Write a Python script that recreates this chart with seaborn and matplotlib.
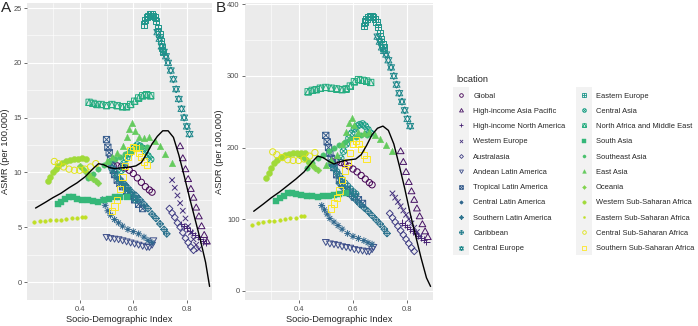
import numpy as np
import matplotlib
matplotlib.use("Agg")
import matplotlib.pyplot as plt
import seaborn as sns
from matplotlib.path import Path
from matplotlib.lines import Line2D
from matplotlib.patches import Rectangle

# values (SDI, ASMR per 100k, ASDR per 100k)
global_sdi = [0.525, 0.54, 0.555, 0.57, 0.585, 0.60, 0.615, 0.63, 0.645, 0.66, 0.67]
global_asmr = [10.6, 10.6, 10.5, 10.4, 10.2, 9.9, 9.5, 9.1, 8.7, 8.4, 8.2]
global_asdr = [180, 180, 179, 177, 174, 170, 166, 161, 156, 151, 148]

hiap_sdi = [0.775, 0.785, 0.795, 0.805, 0.815, 0.825, 0.835, 0.845, 0.855, 0.865, 0.875]
hiap_asmr = [12.4, 11.3, 10.3, 9.4, 8.5, 7.7, 6.8, 6.0, 5.1, 4.3, 3.7]
hiap_asdr = [195, 180, 166, 152, 139, 127, 115, 104, 93, 83, 75]

hina_sdi = [0.78, 0.79, 0.80, 0.81, 0.82, 0.83, 0.84, 0.85, 0.86, 0.87]
hina_asmr = [5.3, 5.1, 4.9, 4.7, 4.5, 4.3, 4.1, 3.9, 3.7, 3.6]
hina_asdr = [95, 92, 89, 86, 83, 80, 77, 74, 71, 68]

weu_sdi = [0.745, 0.755, 0.765, 0.775, 0.785, 0.795, 0.805, 0.815, 0.825, 0.835, 0.845]
weu_asmr = [9.3, 8.6, 7.9, 7.2, 6.5, 5.8, 5.1, 4.5, 3.9, 3.4, 3.0]
weu_asdr = [136, 130, 124, 118, 112, 106, 100, 94, 88, 82, 76]

aus_sdi = [0.735, 0.745, 0.755, 0.765, 0.775, 0.785, 0.795, 0.805, 0.815, 0.825]
aus_asmr = [6.7, 6.3, 5.9, 5.4, 5.0, 4.5, 4.0, 3.6, 3.2, 2.9]
aus_asdr = [108, 102, 96, 90, 84, 78, 72, 66, 60, 55]

andean_sdi = [0.50, 0.515, 0.53, 0.545, 0.56, 0.575, 0.59, 0.605, 0.62, 0.635, 0.65, 0.66, 0.67, 0.675]
andean_asmr = [4.1, 4.0, 3.95, 3.9, 3.8, 3.7, 3.6, 3.5, 3.4, 3.3, 3.2, 3.2, 3.4, 3.8]
andean_asdr = [68, 66, 65, 64, 62, 61, 60, 58, 57, 56, 55, 55, 58, 61]

trop_sdi = [0.50, 0.505, 0.51, 0.515, 0.52, 0.525, 0.53, 0.54, 0.55, 0.56, 0.575, 0.59, 0.605, 0.62, 0.635]
trop_asmr = [13.0, 12.3, 11.8, 11.2, 10.7, 10.2, 9.8, 9.3, 9.0, 8.7, 8.3, 7.9, 7.5, 7.1, 6.7]
trop_asdr = [217, 208, 200, 192, 185, 178, 172, 162, 155, 148, 141, 136, 131, 127, 122]

cla_sdi = [0.485, 0.495, 0.505, 0.515, 0.53, 0.545, 0.56, 0.58, 0.60, 0.62, 0.64, 0.655, 0.67]
cla_asmr = [7.5, 7.0, 6.5, 6.1, 5.7, 5.4, 5.1, 4.8, 4.6, 4.4, 4.1, 3.8, 3.6]
cla_asdr = [119, 113, 107, 101, 96, 91, 86, 80, 76, 73, 70, 67, 65]

sla_sdi = [0.55, 0.565, 0.58, 0.595, 0.61, 0.625, 0.64, 0.655, 0.67, 0.685, 0.70, 0.715, 0.725]
sla_asmr = [9.4, 9.0, 8.6, 8.2, 7.9, 7.5, 7.1, 6.7, 6.2, 5.8, 5.3, 4.8, 4.4]
sla_asdr = [150, 143, 137, 132, 127, 121, 116, 111, 105, 99, 93, 86, 80]

carib_sdi = [0.52, 0.53, 0.54, 0.55, 0.56, 0.57, 0.58, 0.59, 0.60, 0.61]
carib_asmr = [10.4, 10.0, 9.6, 9.2, 8.9, 8.6, 8.3, 8.0, 7.7, 7.5]
carib_asdr = [178, 172, 166, 160, 155, 150, 146, 142, 138, 135]

ceu_sdi = [0.690, 0.698, 0.706, 0.714, 0.722, 0.730, 0.740, 0.750, 0.760, 0.770, 0.780, 0.790, 0.800, 0.810]
ceu_asmr = [22.8, 22.2, 21.5, 21.0, 20.6, 20.0, 19.3, 18.5, 17.6, 16.7, 15.8, 15.0, 14.2, 13.5]
ceu_asdr = [355, 348, 340, 335, 330, 322, 312, 300, 288, 276, 264, 252, 240, 230]

eeu_sdi = [0.640, 0.645, 0.650, 0.656, 0.662, 0.668, 0.674, 0.680, 0.686, 0.692, 0.698, 0.703, 0.708, 0.712]
eeu_asmr = [23.5, 23.9, 24.2, 24.3, 24.4, 24.4, 24.3, 24.2, 23.8, 23.2, 22.6, 22.0, 21.4, 21.0]
eeu_asdr = [370, 376, 380, 382, 383, 383, 382, 380, 375, 368, 360, 352, 345, 340]

cas_sdi = [0.555, 0.565, 0.575, 0.585, 0.595, 0.605, 0.615, 0.625, 0.635, 0.645, 0.655, 0.665]
cas_asmr = [10.2, 10.8, 11.3, 11.7, 12.0, 12.3, 12.5, 12.4, 12.2, 11.9, 11.5, 11.2]
cas_asdr = [185, 195, 205, 213, 220, 226, 230, 232, 233, 230, 225, 220]

name_sdi = [0.435, 0.45, 0.465, 0.48, 0.50, 0.52, 0.54, 0.56, 0.575, 0.59, 0.605, 0.62, 0.635, 0.65, 0.665]
name_asmr = [16.4, 16.3, 16.2, 16.2, 16.1, 16.2, 16.1, 16.0, 16.0, 16.2, 16.5, 16.8, 17.0, 17.1, 17.0]
name_asdr = [278, 280, 281, 283, 284, 283, 282, 281, 282, 286, 292, 295, 294, 293, 291]

sas_sdi = [0.318, 0.33, 0.345, 0.36, 0.375, 0.39, 0.41, 0.43, 0.45, 0.47, 0.49, 0.51, 0.53, 0.55, 0.575]
sas_asmr = [7.1, 7.3, 7.6, 7.8, 7.8, 7.6, 7.5, 7.5, 7.4, 7.3, 7.5, 7.6, 7.8, 7.8, 7.8]
sas_asdr = [126, 129, 133, 136, 137, 135, 134, 133, 132, 131, 132, 133, 134, 135, 136]

sea_sdi = [0.43, 0.45, 0.47, 0.49, 0.51, 0.53, 0.55, 0.57, 0.59, 0.61, 0.63, 0.65]
sea_asmr = [9.5, 9.9, 10.3, 10.7, 11.0, 11.2, 11.4, 11.7, 12.0, 12.2, 12.3, 12.3]
sea_asdr = [172, 178, 185, 190, 195, 200, 204, 208, 212, 215, 217, 218]

eas_sdi = [0.50, 0.52, 0.54, 0.56, 0.575, 0.585, 0.595, 0.605, 0.62, 0.64, 0.66, 0.68, 0.70, 0.72, 0.745]
eas_asmr = [11.0, 11.4, 11.8, 12.4, 13.2, 14.0, 14.5, 13.8, 13.2, 13.1, 13.2, 12.9, 12.4, 11.7, 10.9]
eas_asdr = [175, 182, 190, 205, 222, 235, 242, 232, 222, 220, 222, 218, 212, 203, 195]

oce_sdi = [0.40, 0.41, 0.42, 0.43, 0.44, 0.45, 0.46, 0.47]
oce_asmr = [10.6, 10.4, 10.1, 9.9, 9.6, 9.4, 9.2, 9.0]
oce_asdr = [190, 188, 185, 182, 178, 175, 171, 168]

wssa_sdi = [0.28, 0.29, 0.30, 0.31, 0.32, 0.335, 0.35, 0.365, 0.38, 0.395, 0.41, 0.425]
wssa_asmr = [9.2, 9.6, 10.0, 10.3, 10.6, 10.9, 11.0, 11.1, 11.2, 11.2, 11.3, 11.2]
wssa_asdr = [157, 165, 172, 178, 183, 187, 190, 191, 192, 193, 193, 193]

essa_sdi = [0.23, 0.25, 0.27, 0.29, 0.31, 0.33, 0.35, 0.37, 0.39, 0.41, 0.42]
essa_asmr = [5.5, 5.6, 5.6, 5.65, 5.7, 5.7, 5.75, 5.8, 5.85, 5.9, 5.95]
essa_asdr = [92, 95, 96, 97, 98, 99, 100, 101, 102, 104, 105]

cssa_sdi = [0.305, 0.32, 0.34, 0.36, 0.38, 0.40, 0.42, 0.44, 0.46]
cssa_asmr = [11.0, 10.8, 10.5, 10.3, 10.2, 10.2, 10.3, 10.5, 10.8]
cssa_asdr = [194, 190, 186, 183, 182, 182, 184, 188, 193]

sssa_sdi = [0.52, 0.53, 0.54, 0.55, 0.56, 0.57, 0.58, 0.59, 0.60, 0.61, 0.62, 0.63, 0.64, 0.65]
sssa_asmr = [6.5, 6.9, 7.5, 8.5, 9.6, 10.6, 11.4, 12.0, 12.3, 12.2, 11.8, 11.4, 11.0, 10.7]
sssa_asdr = [115, 122, 130, 140, 155, 168, 180, 192, 205, 210, 205, 198, 190, 184]

# smoothed trend over all regions
fit_sdi = [0.235, 0.27, 0.30, 0.33, 0.36, 0.39, 0.42, 0.45, 0.47, 0.49, 0.51, 0.53, 0.55, 0.57, 0.59,
           0.61, 0.63, 0.65, 0.67, 0.69, 0.71, 0.73, 0.75, 0.77, 0.79, 0.81, 0.83, 0.85, 0.87, 0.885]
fit_asmr = [6.75, 7.25, 7.7, 8.1, 8.6, 9.05, 9.6, 10.35, 10.8, 10.7, 10.45, 10.35, 10.4, 10.45, 10.5,
            10.6, 10.9, 11.7, 12.6, 13.3, 13.8, 13.8, 13.2, 11.6, 9.7, 7.7, 5.8, 3.9, 1.8, -0.4]
fit_asdr = [111, 121, 130, 138, 147, 156, 166, 180, 188, 186, 181, 177, 180, 182, 183,
            184, 190, 203, 218, 227, 230, 224, 205, 175, 143, 108, 77, 46, 18, 6]

locations = ["Global", "High-income Asia Pacific", "High-income North America", "Western Europe",
             "Australasia", "Andean Latin America", "Tropical Latin America", "Central Latin America",
             "Southern Latin America", "Caribbean", "Central Europe", "Eastern Europe", "Central Asia",
             "North Africa and Middle East", "South Asia", "Southeast Asia", "East Asia", "Oceania",
             "Western Sub-Saharan Africa", "Eastern Sub-Saharan Africa", "Central Sub-Saharan Africa",
             "Southern Sub-Saharan Africa"]
series = [
    (global_sdi, global_asmr, global_asdr), (hiap_sdi, hiap_asmr, hiap_asdr),
    (hina_sdi, hina_asmr, hina_asdr), (weu_sdi, weu_asmr, weu_asdr),
    (aus_sdi, aus_asmr, aus_asdr), (andean_sdi, andean_asmr, andean_asdr),
    (trop_sdi, trop_asmr, trop_asdr), (cla_sdi, cla_asmr, cla_asdr),
    (sla_sdi, sla_asmr, sla_asdr), (carib_sdi, carib_asmr, carib_asdr),
    (ceu_sdi, ceu_asmr, ceu_asdr), (eeu_sdi, eeu_asmr, eeu_asdr),
    (cas_sdi, cas_asmr, cas_asdr), (name_sdi, name_asmr, name_asdr),
    (sas_sdi, sas_asmr, sas_asdr), (sea_sdi, sea_asmr, sea_asdr),
    (eas_sdi, eas_asmr, eas_asdr), (oce_sdi, oce_asmr, oce_asdr),
    (wssa_sdi, wssa_asmr, wssa_asdr), (essa_sdi, essa_asmr, essa_asdr),
    (cssa_sdi, cssa_asmr, cssa_asdr), (sssa_sdi, sssa_asmr, sssa_asdr),
]

# ggplot-like point shapes 1..22 built as paths
M, L, C = Path.MOVETO, Path.LINETO, Path.CLOSEPOLY


def poly(pts):
    return Path(pts + [pts[0]], [M] + [L] * (len(pts) - 1) + [C])


def segs(*lines):
    verts, codes = [], []
    for a, b in lines:
        verts += [a, b]
        codes += [M, L]
    return Path(verts, codes)


def combo(*paths):
    return Path.make_compound_path(*paths)


circ = Path.unit_circle()
sq = poly([(-1, -1), (1, -1), (1, 1), (-1, 1)])
tri_up = poly([(-1, -0.75), (1, -0.75), (0, 1)])
tri_dn = poly([(-1, 0.75), (1, 0.75), (0, -1)])
diam = poly([(0, -1), (1, 0), (0, 1), (-1, 0)])
plus = segs(((-1, 0), (1, 0)), ((0, -1), (0, 1)))
xx = segs(((-1, -1), (1, 1)), ((-1, 1), (1, -1)))
xin = segs(((-0.7, -0.7), (0.7, 0.7)), ((-0.7, 0.7), (0.7, -0.7)))

# (marker, filled, size)
shapes = [
    (circ, False, 12), (tri_up, False, 14), (plus, False, 14), (xx, False, 9),
    (diam, False, 14), (tri_dn, False, 14), (combo(sq, xx), False, 12), (combo(plus, xin), False, 14),
    (combo(diam, plus), False, 14), (combo(circ, plus), False, 13), (combo(tri_up, tri_dn), False, 15),
    (combo(sq, plus), False, 12), (combo(circ, xin), False, 13), (combo(sq, poly([(-1, -1), (1, -1), (0, 1)])), False, 12),
    ("s", True, 9), ("o", True, 9), ("^", True, 13), ("D", True, 7),
    ("o", True, 11), ("o", True, 4), (circ, False, 12), (sq, False, 12),
]
plot_scale = 1.7  # points on the panels are drawn larger than legend keys

colors = plt.get_cmap("viridis")(np.linspace(0, 1, len(locations)))

sns.set_style("darkgrid", {"axes.facecolor": "#EBEBEB", "grid.color": "white"})
plt.rcParams["font.family"] = ["Liberation Sans", "DejaVu Sans"]

fig = plt.figure(figsize=(6.98, 3.26), dpi=100)
ax_a = fig.add_axes([27 / 698, 26 / 326, 185 / 698, 297 / 326])
ax_b = fig.add_axes([245 / 698, 26 / 326, 188 / 698, 297 / 326])

handles = []
for (sdi, asmr, asdr), (mk, filled, size), c, name in zip(series, shapes, colors, locations):
    for ax, yv in ((ax_a, asmr), (ax_b, asdr)):
        if filled:
            sns.scatterplot(x=sdi, y=yv, ax=ax, marker=mk, s=size * plot_scale, color=c, edgecolor=c,
                            linewidth=0.3, legend=False, zorder=2)
        else:
            sns.scatterplot(x=sdi, y=yv, ax=ax, marker=mk, s=size * plot_scale, color=c, facecolor="none",
                            edgecolor=c, linewidth=0.7, legend=False, zorder=2)
    handles.append(Line2D([], [], linestyle="none", marker=mk, markersize=np.sqrt(size) * 0.75,
                          markerfacecolor=c if filled else "none", markeredgecolor=c,
                          markeredgewidth=0.3 if filled else 0.6, label=name))

sns.lineplot(x=fit_sdi, y=fit_asmr, ax=ax_a, color="black", linewidth=1.0, zorder=3)
sns.lineplot(x=fit_sdi, y=fit_asdr, ax=ax_b, color="black", linewidth=1.0, zorder=3)

for ax, ylab, ylim, ymaj, ymin in (
        (ax_a, "ASMR (per 100,000)", (-1.64, 25.46), np.arange(0, 26, 5), np.arange(2.5, 26, 5)),
        (ax_b, "ASDR (per 100,000)", (-13, 402), np.arange(0, 401, 100), np.arange(50, 401, 100))):
    ax.set_xlim(0.203, 0.894)
    ax.set_ylim(*ylim)
    ax.set_xticks([0.4, 0.6, 0.8])
    ax.set_xticks([0.3, 0.5, 0.7], minor=True)
    ax.set_yticks(ymaj)
    ax.set_yticks(ymin, minor=True)
    ax.grid(which="major", color="white", linewidth=0.8)
    ax.grid(which="minor", color="white", linewidth=0.4)
    ax.tick_params(which="major", bottom=True, left=True, length=2.5, width=0.5,
                   color="#333333", labelsize=5.4, labelcolor="#4D4D4D", pad=1.5)
    ax.tick_params(which="minor", bottom=False, left=False)
    ax.set_xlabel("Socio-Demographic Index", fontsize=6.7, labelpad=2)
    ax.set_ylabel(ylab, fontsize=6.7, labelpad=2)
    for sp in ax.spines.values():
        sp.set_visible(False)

fig.text(1 / 698, 1 - 1 / 326, "A", fontsize=11, ha="left", va="top")
fig.text(216 / 698, 1 - 1 / 326, "B", fontsize=11, ha="left", va="top")

leg = fig.legend(handles=handles, ncol=2, loc="upper left", bbox_to_anchor=(451 / 698, 1 - 70 / 326),
                 frameon=False, title="location", fontsize=5.4, title_fontsize=6.7,
                 labelspacing=1.07, handlelength=1.3, handletextpad=0.97, columnspacing=1.75,
                 borderpad=0.2)
leg._legend_box.align = "left"

# grey key backgrounds like ggplot legend keys
fig.canvas.draw()
rend = fig.canvas.get_renderer()
inv = fig.transFigure.inverted()
cols = {}
for h in leg.legend_handles:
    bb = h.get_window_extent(rend)
    cx, cy = (bb.x0 + bb.x1) / 2, (bb.y0 + bb.y1) / 2
    cols.setdefault(round(cx), []).append(cy)
for cx, ys in cols.items():
    step = abs(ys[0] - ys[1]) if len(ys) > 1 else 15
    x0, y0 = inv.transform((cx - 8, min(ys) - step / 2))
    x1, y1 = inv.transform((cx + 8, max(ys) + step / 2))
    fig.add_artist(Rectangle((x0, y0), x1 - x0, y1 - y0, transform=fig.transFigure,
                             facecolor="#F2F2F2", edgecolor="none", zorder=0))

fig.savefig("out.png", dpi=100)
